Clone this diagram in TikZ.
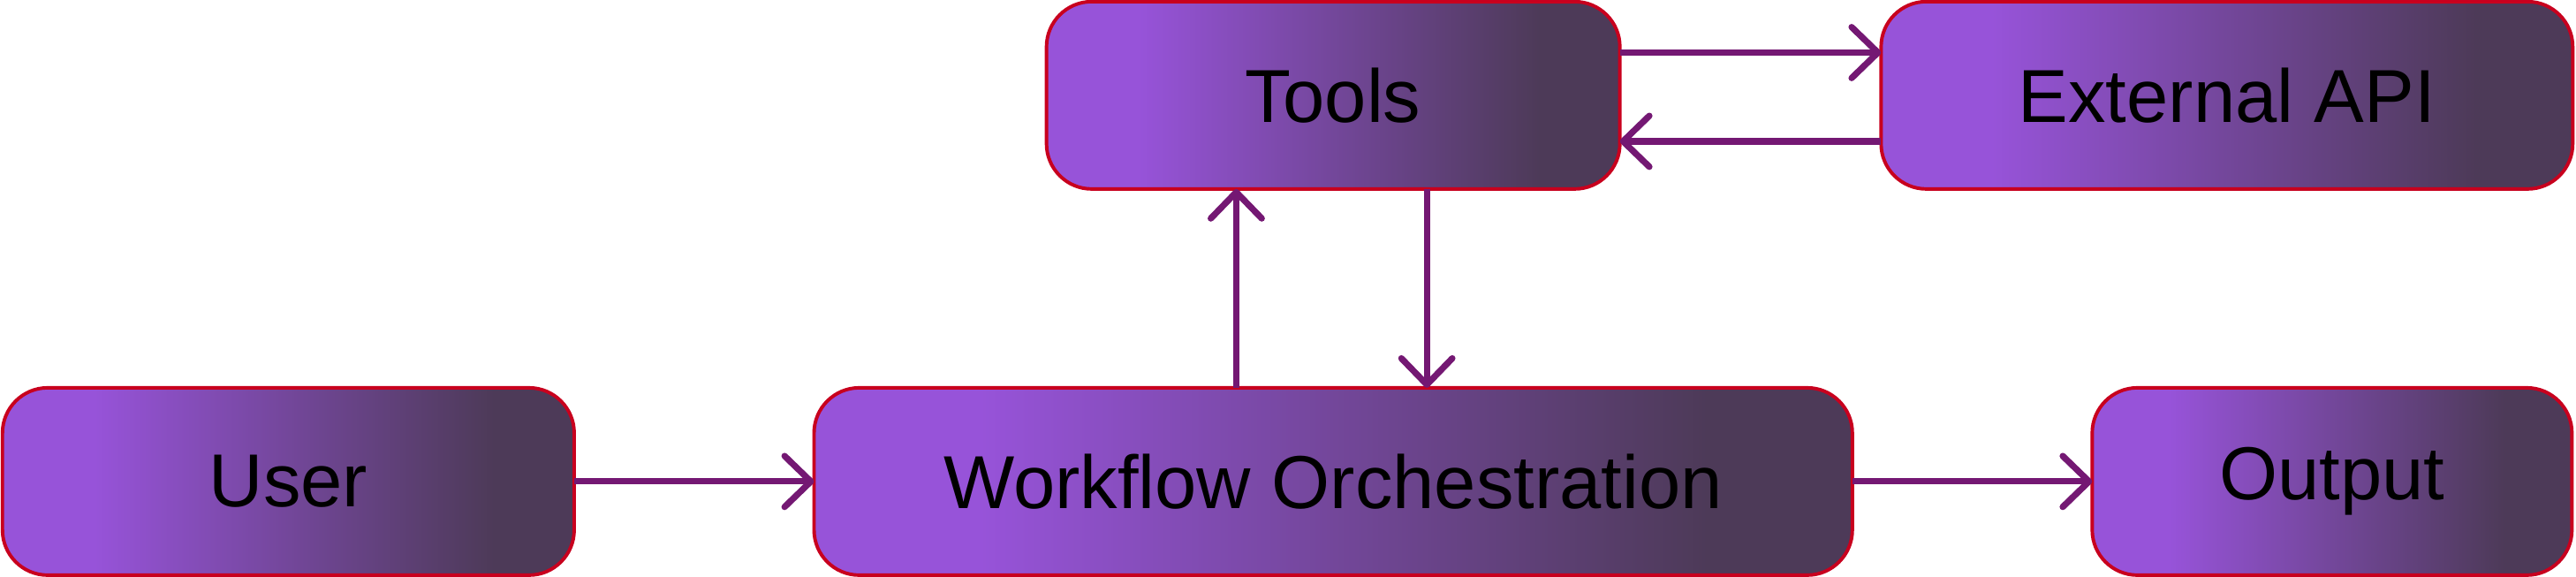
\documentclass[tikz,border=0pt]{standalone}
\usepackage{fontspec}
\setmainfont{Liberation Sans}
\usepackage{tikz}
\usetikzlibrary{positioning,arrows.meta}
\definecolor{boxlight}{RGB}{151,83,217}
\definecolor{boxdark}{RGB}{77,58,88}
\definecolor{boxedge}{RGB}{200,0,30}
\definecolor{linkpurple}{RGB}{116,24,115}
\pgfdeclarehorizontalshading{boxgrad}{100bp}{color(0bp)=(boxlight); color(33bp)=(boxlight); color(68bp)=(boxdark); color(100bp)=(boxdark)}

\begin{document}
\begin{tikzpicture}[
  font=\fontsize{26}{30}\selectfont,
  node distance=2.92cm and 2.92cm,
  blk/.style={draw=boxedge, line width=1.2pt, rounded corners=0.55cm, shading=boxgrad, minimum height=2.28cm, align=center, outer sep=0pt},
  arr/.style={-{Straight Barb[length=0.32cm, width=0.62cm, round]}, line width=2.2pt, linkpurple},
  ]
  \useasboundingbox (0,0) rectangle (31.36,7.02);
  % bottom row
  \node[blk, minimum width=6.96cm] (user) at (3.51,1.16) {User};
  \node[blk, minimum width=12.64cm, right=of user] (flow) {Workflow Orchestration};
  \node[blk, minimum width=5.84cm, right=of flow] (out) {Output};
  % top row
  \node[blk, minimum width=6.98cm, above=2.42cm of flow] (tools) {Tools};
  \node[blk, minimum width=8.42cm, right=3.18cm of tools] (api) {External API};
  \draw[arr] (user) -- (flow);
  \draw[arr] (flow) -- (out);
  \draw[arr] ([xshift=-1.18cm]flow.north) -- ([xshift=-1.18cm]tools.south);
  \draw[arr] ([xshift=1.14cm]tools.south) -- ([xshift=1.14cm]flow.north);
  \draw[arr] ([yshift=0.52cm]tools.east) -- ([yshift=0.52cm]api.west);
  \draw[arr] ([yshift=-0.56cm]api.west) -- ([yshift=-0.56cm]tools.east);
\end{tikzpicture}
\end{document}
